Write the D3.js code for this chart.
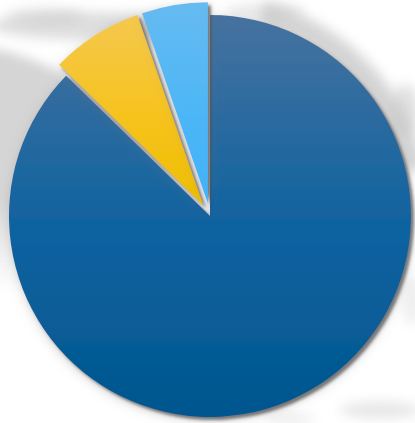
<!DOCTYPE html>
<html>
<head>
<meta charset="utf-8">
<script src="https://cdn.jsdelivr.net/npm/d3@7"></script>
<style>
  html, body { margin: 0; padding: 0; background: #ffffff; }
  svg { display: block; }
</style>
</head>
<body>
<script>
// Share of each segment (percent), drawn clockwise from 12 o'clock
const categories = ["Main", "Second", "Third"];
const values = [87.3, 7.4, 5.3];
const topColors = ["#46729f", "#f5c84e", "#66baf0"];
const midColors = ["#0d62a0", "#f6c31c", "#4db6f6"];
const bottomColors = ["#02568e", "#eebd00", "#3fb2fb"];
const exploded = [false, true, true];

// Soft grey shapes of the backdrop (blurred)
const backdrop = [
  { cx: 95, cy: 26, rx: 105, ry: 14, o: 0.5 },
  { cx: 45, cy: 16, rx: 40, ry: 8, o: 0.35 },
  { cx: 150, cy: 34, rx: 45, ry: 9, o: 0.4 },
  { cx: 265, cy: 12, rx: 40, ry: 8, o: 0.35 },
  { cx: 405, cy: 110, rx: 14, ry: 26, o: 0.45 },
  { cx: 412, cy: 300, rx: 10, ry: 25, o: 0.25 },
  { cx: 380, cy: 410, rx: 40, ry: 9, o: 0.35 },
  { cx: 290, cy: 419, rx: 25, ry: 5, o: 0.3 }
];

const W = 415, H = 423;
const cx = 210, cy = 216, R = 201, explodeBy = 13;

const svg = d3.select("body").append("svg")
  .attr("width", W).attr("height", H);
const defs = svg.append("defs");

defs.append("filter").attr("id", "soft")
  .attr("x", "-50%").attr("y", "-50%").attr("width", "200%").attr("height", "200%")
  .append("feGaussianBlur").attr("stdDeviation", 6);

// Drop shadow used by every slice: a crisp dark edge plus a wide soft halo
const sh = defs.append("filter").attr("id", "shadow")
  .attr("x", "-20%").attr("y", "-20%").attr("width", "140%").attr("height", "140%");
sh.append("feGaussianBlur").attr("in", "SourceAlpha").attr("stdDeviation", 1.8).attr("result", "b");
sh.append("feOffset").attr("in", "b").attr("dx", 2.5).attr("dy", 3).attr("result", "o");
sh.append("feFlood").attr("flood-color", "#4a4a4a").attr("flood-opacity", 0.7);
sh.append("feComposite").attr("in2", "o").attr("operator", "in").attr("result", "s");
sh.append("feGaussianBlur").attr("in", "SourceAlpha").attr("stdDeviation", 6).attr("result", "b2");
sh.append("feOffset").attr("in", "b2").attr("dx", 1).attr("dy", 3).attr("result", "o2");
sh.append("feFlood").attr("flood-color", "#777777").attr("flood-opacity", 0.35);
sh.append("feComposite").attr("in2", "o2").attr("operator", "in").attr("result", "s2");
const m = sh.append("feMerge");
m.append("feMergeNode").attr("in", "s2");
m.append("feMergeNode").attr("in", "s");
m.append("feMergeNode").attr("in", "SourceGraphic");

// Fading grey disc behind the left of the pie
const lg = defs.append("linearGradient").attr("id", "discFade")
  .attr("x1", 0).attr("y1", 0).attr("x2", 0).attr("y2", 1);
lg.append("stop").attr("offset", "0%").attr("stop-color", "#d4d4d4").attr("stop-opacity", 1);
lg.append("stop").attr("offset", "30%").attr("stop-color", "#d6d6d6").attr("stop-opacity", 1);
lg.append("stop").attr("offset", "48%").attr("stop-color", "#e2e2e2").attr("stop-opacity", 0);

categories.forEach((c, i) => {
  const g = defs.append("linearGradient").attr("id", "grad" + i)
    .attr("x1", 0).attr("y1", 0).attr("x2", 0).attr("y2", 1);
  g.append("stop").attr("offset", "0%").attr("stop-color", topColors[i]);
  g.append("stop").attr("offset", "55%").attr("stop-color", midColors[i]);
  g.append("stop").attr("offset", "100%").attr("stop-color", bottomColors[i]);
});

const back = svg.append("g");
back.append("circle")
  .attr("cx", -60).attr("cy", 305).attr("r", 262)
  .attr("fill", "url(#discFade)")
  .attr("filter", "url(#soft)");
back.selectAll("ellipse").data(backdrop).join("ellipse")
  .attr("cx", d => d.cx).attr("cy", d => d.cy)
  .attr("rx", d => d.rx).attr("ry", d => d.ry)
  .attr("fill", "#bdbdbd").attr("opacity", d => d.o)
  .attr("filter", "url(#soft)");

// Grey haze hugging the upper-right rim
const rim = d3.arc().innerRadius(R - 4).outerRadius(R + 20);
back.append("path")
  .attr("transform", `translate(${cx},${cy})`)
  .attr("d", rim({ startAngle: 0.25, endAngle: 1.35 }))
  .attr("fill", "#c4c4c4").attr("opacity", 0.7)
  .attr("filter", "url(#soft)");

const pie = d3.pie().sort(null).value(d => d)(values);
const arc = d3.arc().innerRadius(0).outerRadius(R);

const slices = svg.append("g").attr("transform", `translate(${cx},${cy})`);
slices.selectAll("path").data(pie).join("path")
  .attr("d", arc)
  .attr("fill", (d, i) => `url(#grad${i})`)
  .attr("filter", "url(#shadow)")
  .attr("transform", (d, i) => {
    if (!exploded[i]) return null;
    const a = (d.startAngle + d.endAngle) / 2;
    return `translate(${Math.sin(a) * explodeBy},${-Math.cos(a) * explodeBy})`;
  });
</script>
</body>
</html>
